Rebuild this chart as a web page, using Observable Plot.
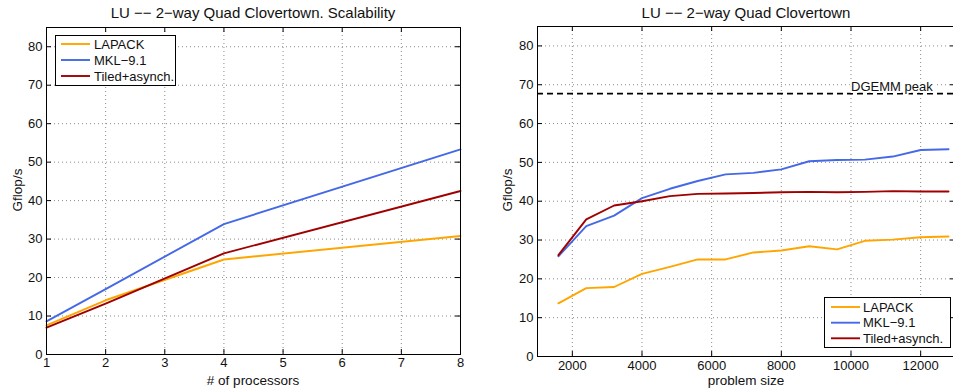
<!DOCTYPE html>
<html>
<head>
<meta charset="utf-8">
<script src="https://cdn.jsdelivr.net/npm/d3@7"></script>
<script src="https://cdn.jsdelivr.net/npm/@observablehq/plot@0.6"></script>
<style>
  body { margin: 0; background: #fff; }
  #wrap { position: relative; width: 953px; height: 392px; overflow: hidden; background: #fff;
          font-family: "Liberation Sans", Arial, Helvetica, sans-serif; color: #111; }
  .panel { position: absolute; top: 0; }
  .txt { position: absolute; font-size: 13px; white-space: nowrap; line-height: 1; }
  .legend { position: absolute; }
</style>
</head>
<body>
<div id="wrap"></div>
<script>
// ---------- data ----------
const series = ["LAPACK", "MKL\u22129.1", "Tiled+asynch."];
const seriesColors = ["#ffa500", "#4569e6", "#a00000"];

// Left panel: scalability vs number of processors
const procs = [1, 2, 4, 8];
const lapackProcs = [7.6, 14.1, 24.7, 30.8];
const mklProcs = [8.6, 17.0, 33.9, 53.3];
const tiledProcs = [7.0, 13.2, 26.3, 42.5];
const procTicks = [1, 2, 3, 4, 5, 6, 7, 8];

// Right panel: performance vs problem size
const sizes = [1600, 2400, 3200, 4000, 4800, 5600, 6400, 7200, 8000, 8800, 9600, 10400, 11200, 12000, 12800];
const lapackSize = [13.7, 17.6, 17.9, 21.3, 23.1, 25.0, 25.0, 26.8, 27.3, 28.4, 27.6, 29.8, 30.1, 30.7, 30.9];
const mklSize = [25.8, 33.6, 36.3, 40.8, 43.2, 45.2, 46.9, 47.3, 48.2, 50.3, 50.6, 50.7, 51.5, 53.2, 53.4];
const tiledSize = [26.1, 35.3, 38.9, 40.0, 41.3, 41.9, 42.0, 42.1, 42.3, 42.4, 42.3, 42.4, 42.6, 42.5, 42.5];
const sizeTicks = [2000, 4000, 6000, 8000, 10000, 12000];

const dgemmPeak = 67.7;
const dgemmLabel = "DGEMM peak";
const dgemmLabelX = 10000;

const yTicks = [0, 10, 20, 30, 40, 50, 60, 70, 80];

const titles = ["LU \u2212\u2212 2\u2212way Quad Clovertown. Scalability", "LU \u2212\u2212 2\u2212way Quad Clovertown"];
const xLabels = ["# of processors", "problem size"];
const yLabel = "Gflop/s";

// ---------- build ----------
function toRows(xs, ys) {
  const rows = [];
  ys.forEach((vals, i) => xs.forEach((x, j) => rows.push({x, y: vals[j], s: series[i]})));
  return rows;
}
const leftRows = toRows(procs, [lapackProcs, mklProcs, tiledProcs]);
const rightRows = toRows(sizes, [lapackSize, mklSize, tiledSize]);

const FONT = '"Liberation Sans", Arial, Helvetica, sans-serif';
const wrap = document.getElementById("wrap");

function panel(cfg) {
  const W = cfg.width, H = 392;
  const pw = W - cfg.ml - cfg.mr, ph = H - cfg.mt - cfg.mb;
  const tick = 5;
  const grid = {stroke: "#8a8a8a", strokeOpacity: 1, strokeDasharray: "1,3", strokeWidth: 1};
  const marks = [
    Plot.gridX(cfg.xTicks, grid),
    Plot.gridY(yTicks, grid),
    ...(cfg.extra || []),
    Plot.line(cfg.rows, {x: "x", y: "y", stroke: "s", strokeWidth: 1.9, z: "s"}),
    Plot.ruleX(cfg.xTicks, {x: d => d, insetTop: ph - tick, stroke: "#000"}),
    Plot.ruleX(cfg.xTicks, {x: d => d, insetBottom: ph - tick, stroke: "#000"}),
    Plot.ruleY(yTicks, {y: d => d, insetRight: pw - tick, stroke: "#000"}),
    Plot.ruleY(yTicks, {y: d => d, insetLeft: pw - tick, stroke: "#000"}),
    Plot.frame({stroke: "#000", strokeWidth: 1}),
    Plot.axisX(cfg.xTicks, {tickSize: 0, tickPadding: cfg.xPad, label: null, fontSize: 13, tickFormat: d => String(d)}),
    Plot.axisY(yTicks, {tickSize: 0, tickPadding: 4, label: null, fontSize: 13})
  ];
  const svg = Plot.plot({
    width: W, height: H,
    marginLeft: cfg.ml, marginRight: cfg.mr, marginTop: cfg.mt, marginBottom: cfg.mb,
    x: {domain: cfg.xDomain},
    y: {domain: [0, 85]},
    color: {domain: series, range: seriesColors},
    style: {fontFamily: FONT, fontSize: "13px", background: "transparent", color: "#111"},
    marks
  });
  svg.classList.add("panel");
  svg.style.left = cfg.left + "px";
  wrap.appendChild(svg);
}

panel({
  left: 0, width: 480, ml: 46, mr: 20, mt: 27, mb: 38, xPad: 3,
  xDomain: [1, 8], xTicks: procTicks, rows: leftRows
});

panel({
  left: 480, width: 480, ml: 57, mr: 5, mt: 26, mb: 36, xPad: 4,
  xDomain: [1000, 13000], xTicks: sizeTicks, rows: rightRows,
  extra: [
    Plot.ruleY([dgemmPeak], {y: d => d, stroke: "#000", strokeWidth: 1.6, strokeDasharray: "6,4"}),
    Plot.text([dgemmPeak], {y: d => d, x: () => dgemmLabelX, text: () => dgemmLabel, textAnchor: "start",
      lineAnchor: "bottom", dy: -3, fontSize: 13, fill: "#111", stroke: "#fff", strokeWidth: 4})
  ]
});

// text: titles and axis labels
function addText(str, x, y, size, rotate) {
  const d = document.createElement("div");
  d.className = "txt";
  d.textContent = str;
  d.style.fontSize = size + "px";
  d.style.left = x + "px";
  d.style.top = y + "px";
  d.style.transform = "translate(-50%, -50%)" + (rotate ? " rotate(-90deg)" : "");
  wrap.appendChild(d);
}
addText(titles[0], 253, 11.7, 15);
addText(titles[1], 746, 11.7, 15);
addText(xLabels[0], 253, 380.5, 13.5);
addText(xLabels[1], 746, 380.5, 13.5);
addText(yLabel, 17.5, 190, 13.5, true);
addText(yLabel, 507.5, 190, 13.5, true);

// legends
function legend(x, y, w, h, lineX0, lineX1, textX, rowY) {
  const svg = d3.select(wrap).append("svg")
    .attr("class", "legend")
    .style("left", x + "px").style("top", y + "px")
    .attr("width", w).attr("height", h);
  svg.append("rect").attr("x", 0.5).attr("y", 0.5).attr("width", w - 1).attr("height", h - 1)
    .attr("fill", "#fff").attr("stroke", "#000");
  series.forEach((s, i) => {
    svg.append("line").attr("x1", lineX0).attr("x2", lineX1).attr("y1", rowY[i]).attr("y2", rowY[i])
      .attr("stroke", seriesColors[i]).attr("stroke-width", 1.9);
    svg.append("text").attr("x", textX).attr("y", rowY[i]).attr("dy", "0.35em")
      .attr("font-family", FONT).attr("font-size", 13).attr("fill", "#111").text(s);
  });
}
legend(55, 35, 121, 51, 6, 35, 39, [9, 25, 41]);
legend(824, 297, 127, 51, 7, 36, 39, [10, 25.7, 41.3]);
</script>
</body>
</html>
